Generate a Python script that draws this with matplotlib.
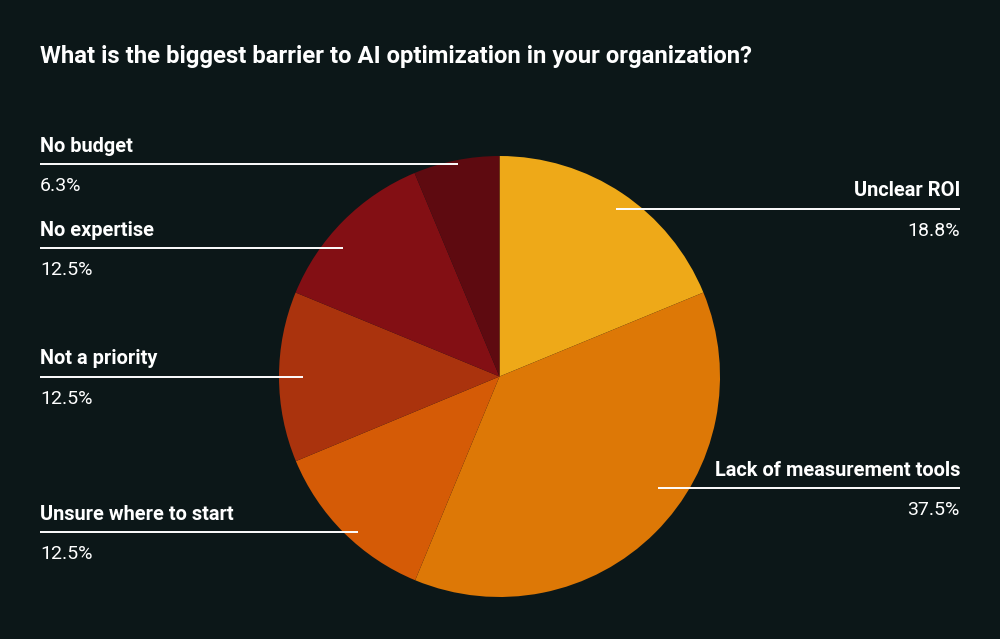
import matplotlib.pyplot as plt
import numpy as np

plt.rcParams['font.family'] = ['Roboto', 'DejaVu Sans']

title = 'What is the biggest barrier to AI optimization in your organization?'
labels = ['Unclear ROI', 'Lack of measurement tools', 'Unsure where to start',
          'Not a priority', 'No expertise', 'No budget']
shares = [18.8, 37.5, 12.5, 12.5, 12.5, 6.3]
colors = ['#eea918', '#dd7806', '#d55b06', '#aa330d', '#830f14', '#5e0a10']

# label layout in screen pixels: (side, line y, inner end x of the line)
layout = [('right', 209, 616), ('right', 488, 658), ('left', 532, 358),
          ('left', 377, 303), ('left', 248, 343), ('left', 164, 458)]

W, H = 1000, 639
bg = '#0c1718'

fig = plt.figure(figsize=(W / 100, H / 100), dpi=100, facecolor=bg)
ax = fig.add_axes([0, 0, 1, 1])
ax.set_facecolor(bg)

cx, cy, r = 499.5, 376.5, 220.5
ax.pie(shares, colors=colors, startangle=90, counterclock=False,
       center=(cx, H - cy), radius=r, wedgeprops=dict(linewidth=0))

for name, val, (side, ly, lx) in zip(labels, shares, layout):
    y = H - ly
    if side == 'left':
        tx, ha = 40, 'left'
        ax.plot([40, lx], [y, y], color='white', lw=1.4, solid_capstyle='butt')
    else:
        tx, ha = 960, 'right'
        ax.plot([lx, 960], [y, y], color='white', lw=1.4, solid_capstyle='butt')
    ax.text(tx, y + 12.5, name, ha=ha, va='baseline', color='white',
            fontsize=14.4, fontweight='bold')
    ax.text(tx, y - 27, f'{val:.1f}%', ha=ha, va='baseline', color='white',
            fontsize=14)

ax.text(40, H - 63, title, ha='left', va='baseline', color='white',
        fontsize=17.2, fontweight='bold')

ax.set_xlim(0, W)
ax.set_ylim(0, H)
ax.set_aspect('auto')
ax.axis('off')

fig.savefig('out.png', dpi=100, facecolor=bg)
